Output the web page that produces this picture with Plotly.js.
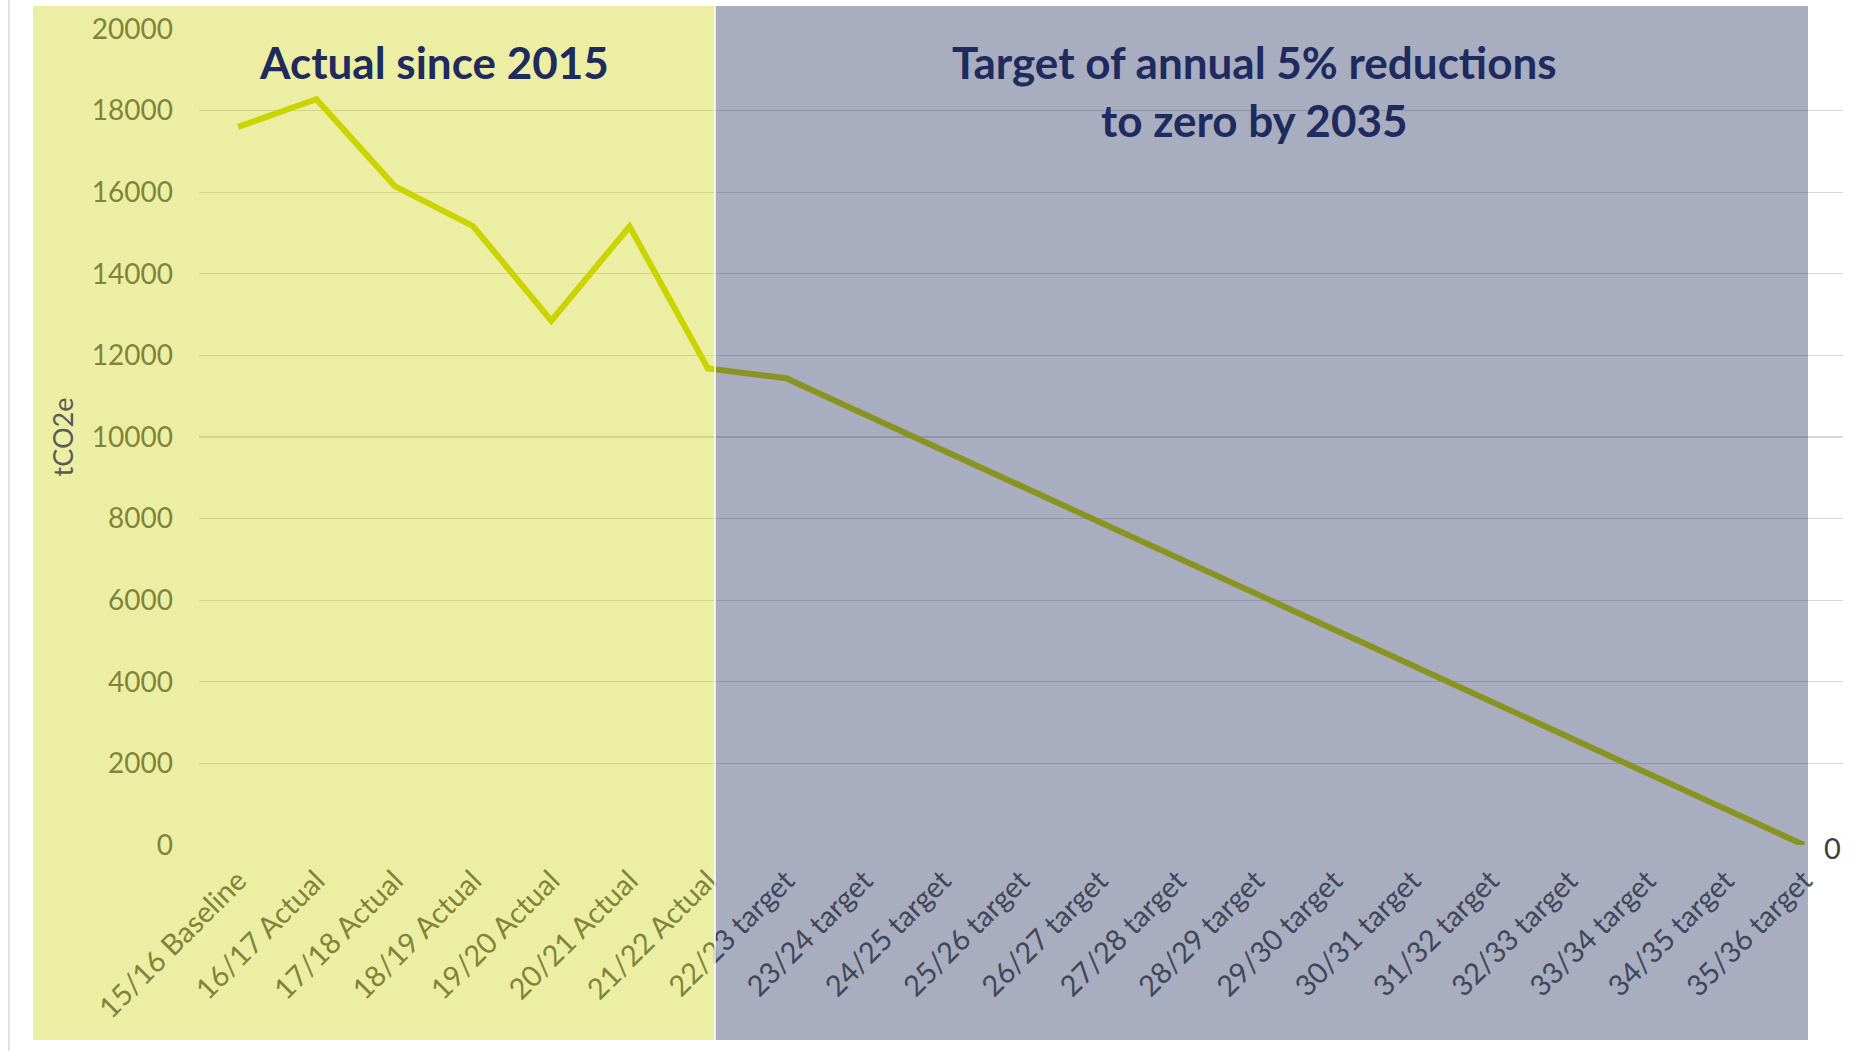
<!DOCTYPE html>
<html><head><meta charset="utf-8">
<script src="https://cdn.plot.ly/plotly-3.0.1.min.js"></script>
<style>html,body{margin:0;padding:0;background:#fff}#chart{width:1868px;height:1051px}</style>
</head><body><div id="chart"></div>
<script>
// ---- data ----
const periods = ['15/16 Baseline','16/17 Actual','17/18 Actual','18/19 Actual','19/20 Actual','20/21 Actual','21/22 Actual',
  '22/23 target','23/24 target','24/25 target','25/26 target','26/27 target','27/28 target','28/29 target','29/30 target',
  '30/31 target','31/32 target','32/33 target','33/34 target','34/35 target','35/36 target'];
const emissions = [17600,18280,16150,15170,12850,15160,11680,
  11440,10560,9680,8800,7920,7040,6160,5280,4400,3520,2640,1760,880,0];
const yTicks = [0,2000,4000,6000,8000,10000,12000,14000,16000,18000,20000];
const yAxisTitle = 'tCO2e';
const actualTitle = ['Actual since 2015'];
const targetTitle = ['Target of annual 5% reductions','to zero by 2035'];

// ---- geometry helpers (layout pixels) ----
const W = 1868, H = 1051;
const M = {l:199, r:25, t:29, b:206};
const pw = W - M.l - M.r, ph = H - M.t - M.b;
const xp = X => (X - M.l) / pw;
const yp = Y => (H - M.b - Y) / ph;

const trace = {
  type:'scatter', mode:'lines',
  x: periods, y: emissions,
  line:{color:'rgb(204,214,0)', width:6},
  cliponaxis:false, hoverinfo:'x+y'
};

const navy = '#1F2A5E';
const titleFont = {family:'Lato', size:44, color:navy, weight:700};
const annotations = [];
actualTitle.forEach((t,i) => annotations.push({
  text:t, xref:'paper', yref:'paper', x:xp(434), y:yp(62 + i*58), xanchor:'center', yanchor:'middle',
  showarrow:false, font:titleFont
}));
targetTitle.forEach((t,i) => annotations.push({
  text:t, xref:'paper', yref:'paper', x:xp(1254), y:yp(62 + i*58), xanchor:'center', yanchor:'middle',
  showarrow:false, font:titleFont
}));
// data label for the final point
const lastIdx = emissions.length - 1;
annotations.push({
  text:String(emissions[lastIdx]), xref:'x', yref:'y', x:periods[lastIdx], y:emissions[lastIdx],
  xanchor:'left', yanchor:'middle', xshift:18, yshift:-2, showarrow:false,
  font:{family:'Lato', size:29, color:'#404040'}
});

const shapes = [
  {type:'line', xref:'paper', yref:'paper', x0:xp(9), x1:xp(9), y0:yp(H), y1:yp(0),
   line:{color:'#d9d9d9', width:1.5}, layer:'above'},
  {type:'rect', xref:'paper', yref:'paper', x0:xp(33), x1:xp(715), y0:yp(1040), y1:yp(6),
   fillcolor:'rgb(202,207,0)', opacity:0.357, line:{width:0}, layer:'above'},
  {type:'rect', xref:'paper', yref:'paper', x0:xp(715), x1:xp(1808), y0:yp(1040), y1:yp(6),
   fillcolor:'rgb(26,39,89)', opacity:0.38, line:{width:0}, layer:'above'},
  {type:'line', xref:'paper', yref:'paper', x0:xp(715), x1:xp(715), y0:yp(1040), y1:yp(6),
   line:{color:'#ffffff', width:1.5}, layer:'above'}
];

const layout = {
  width:W, height:H, margin:M,
  paper_bgcolor:'#ffffff', plot_bgcolor:'#ffffff',
  showlegend:false,
  font:{family:'Lato', color:'#595959'},
  xaxis:{
    type:'category', categoryorder:'array', categoryarray:periods,
    range:[-0.5, periods.length - 0.5],
    showgrid:false, zeroline:false, showline:false, ticks:'',
    tickangle:-45, tickfont:{family:'Lato', size:29, color:'#595959'},
    ticklabelstandoff:12
  },
  yaxis:{
    range:[0,20000], tickvals:yTicks, ticktext:yTicks.map(String),
    showgrid:true, gridcolor:'rgb(217,217,217)', gridwidth:1.3,
    zeroline:false, showline:false, ticks:'',
    tickfont:{family:'Lato', size:28, color:'#595959'},
    ticklabelstandoff:25,
    title:{text:yAxisTitle, font:{family:'Lato', size:27, color:'#595959'}, standoff:10}
  },
  shapes:shapes, annotations:annotations
};

Plotly.newPlot('chart', [trace], layout, {displayModeBar:false, staticPlot:true});
</script>
</body></html>
